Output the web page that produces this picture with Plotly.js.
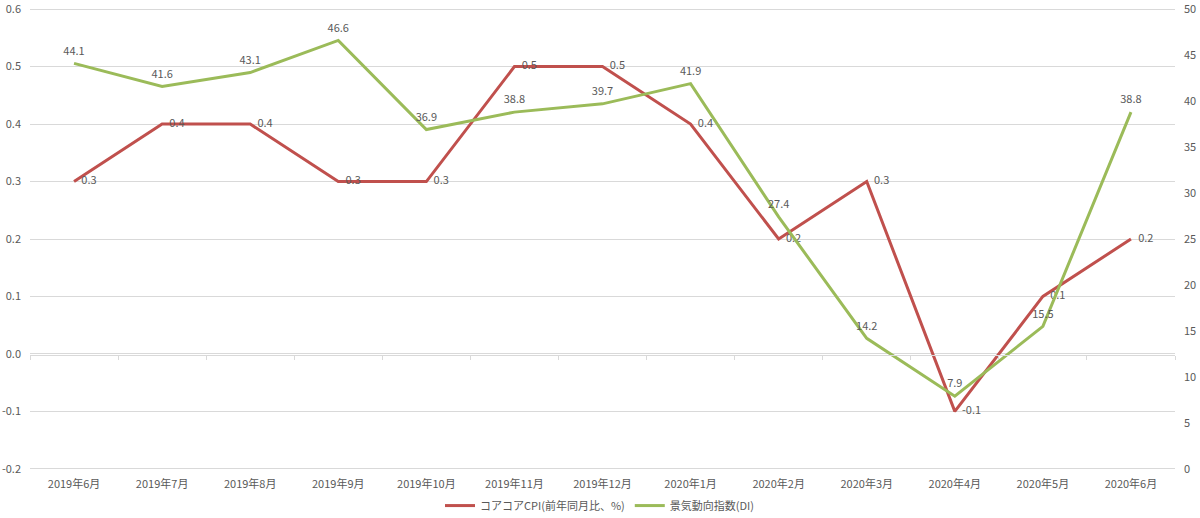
<!DOCTYPE html>
<html><head><meta charset="utf-8">
<script src="https://cdn.plot.ly/plotly-3.0.1.min.js"></script>
<style>body{margin:0;background:#fff}#c{width:1200px;height:518px}</style>
</head><body><div id="c"></div>
<script>
const months = ["2019年6月","2019年7月","2019年8月","2019年9月","2019年10月","2019年11月","2019年12月","2020年1月","2020年2月","2020年3月","2020年4月","2020年5月","2020年6月"];
const coreCoreCPI = [0.3,0.4,0.4,0.3,0.3,0.5,0.5,0.4,0.2,0.3,-0.1,0.1,0.2];
const diIndex = [44.1,41.6,43.1,46.6,36.9,38.8,39.7,41.9,27.4,14.2,7.9,15.5,38.8];
const leftTicks = [-0.2,-0.1,0.0,0.1,0.2,0.3,0.4,0.5,0.6];
const rightTicks = [0,5,10,15,20,25,30,35,40,45,50];

const FONT = '"Noto Sans CJK JP", "Noto Sans", sans-serif';
const grey = '#595959';
const clear = 'rgba(0,0,0,0)';
const traces = [
  {x: months, y: coreCoreCPI, name: 'コアコアCPI(前年同月比、%)', type: 'scatter', mode: 'lines+markers+text',
   line: {color: '#C0504D', width: 3}, marker: {size: 10, color: clear},
   text: coreCoreCPI.map(v => v.toFixed(1)),
   textposition: 'middle right', textfont: {size: 11, color: grey, family: FONT}, cliponaxis: false},
  {x: months, y: diIndex, name: '景気動向指数(DI)', type: 'scatter', mode: 'lines+markers+text', yaxis: 'y2',
   line: {color: '#9BBB59', width: 3}, marker: {size: 8, color: clear},
   text: diIndex.map(v => v.toFixed(1)),
   textposition: 'top center', textfont: {size: 11, color: grey, family: FONT}, cliponaxis: false},
  {x: months, y: months.map(() => null), xaxis: 'x2', showlegend: false, hoverinfo: 'skip', type: 'scatter'}
];
const layout = {
  width: 1200, height: 518,
  margin: {l: 30, r: 25, t: 8, b: 48, autoexpand: false},
  paper_bgcolor: '#fff', plot_bgcolor: '#fff',
  font: {family: FONT, size: 11, color: grey},
  showlegend: true,
  legend: {orientation: 'h', x: 0.5, xanchor: 'center', xref: 'container', yref: 'container', y: 0.024, yanchor: 'middle',
           font: {size: 11, color: grey, family: FONT}, tracegroupgap: 0, itemwidth: 30},
  xaxis: {type: 'category', range: [-0.5, months.length - 0.5], showgrid: false, zeroline: false, showline: false,
          ticks: '', automargin: false, tickfont: {size: 11, color: grey}, domain: [0, 1], ticklabelstandoff: 6},
  xaxis2: {type: 'category', overlaying: 'x', matches: 'x', anchor: 'free', position: 0.25, automargin: false,
           showticklabels: false, showline: true, linecolor: '#d9d9d9', linewidth: 1,
           ticks: 'outside', tickson: 'boundaries', ticklen: 4, tickcolor: '#d9d9d9', showgrid: false},
  yaxis: {range: [-0.202, 0.602], tickvals: leftTicks, ticktext: leftTicks.map(v => v.toFixed(1)), automargin: false,
          showgrid: true, gridcolor: '#d9d9d9', gridwidth: 1, zeroline: false, showline: false,
          tickfont: {size: 11, color: grey}, ticks: '', ticklabelstandoff: 8},
  yaxis2: {range: [-0.125, 50.125], tickvals: rightTicks, overlaying: 'y', side: 'right', showgrid: false, automargin: false,
           zeroline: false, showline: false, tickfont: {size: 11, color: grey}, ticks: '', ticklabelstandoff: 8}
};
Plotly.newPlot('c', traces, layout, {displayModeBar: false, staticPlot: true});
</script></body></html>
